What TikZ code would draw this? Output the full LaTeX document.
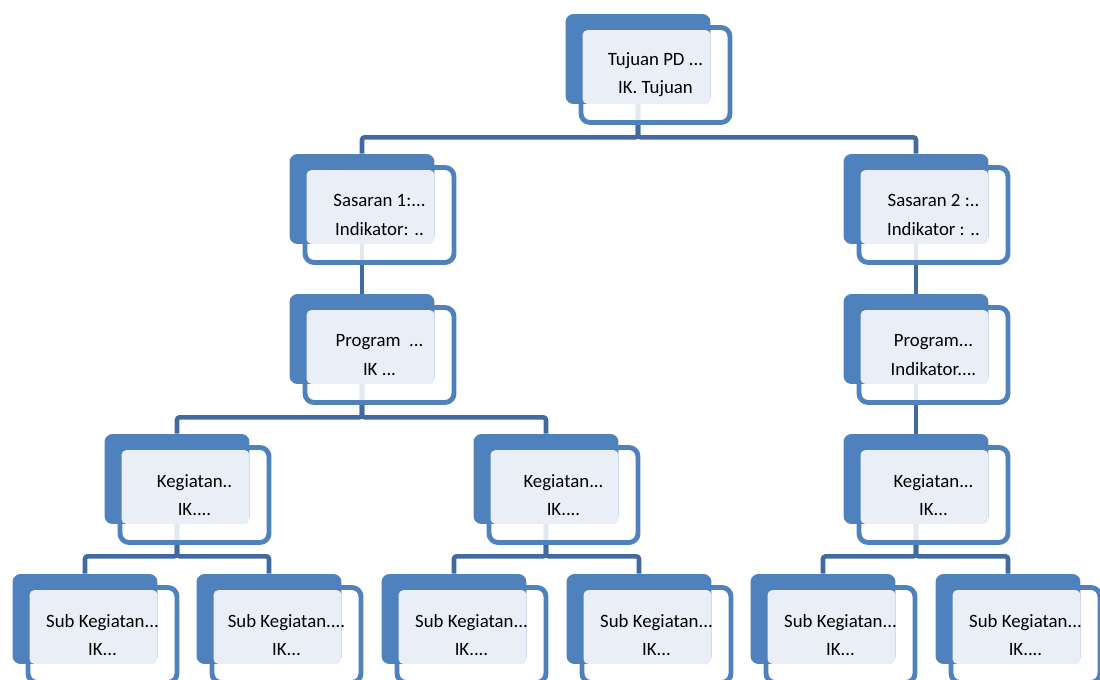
\documentclass[tikz,border=0pt]{standalone}
\usepackage{fontspec}
\setmainfont{Carlito}
\usepackage{tikz}
\usetikzlibrary{positioning,calc}
\definecolor{boxblue}{RGB}{79,129,189}
\definecolor{lineblue}{RGB}{64,106,160}
\definecolor{paleblue}{RGB}{234,239,247}
\pgfdeclarelayer{background}
\pgfsetlayers{background,main}
\tikzset{%
    backbox/.style={fill=boxblue, rounded corners=0.16cm,%
        minimum width=2.9cm, minimum height=1.8cm, inner sep=0pt},%
    framebox/.style={draw=boxblue, line width=2.8pt, fill=white,%
        fill opacity=0.85, rounded corners=0.18cm,%
        minimum width=2.98cm, minimum height=1.9cm, inner sep=0pt},%
    palebox/.style={fill=paleblue, rounded corners=0.1cm,%
        minimum width=2.56cm, minimum height=1.48cm, inner sep=0pt},%
    boxtext/.style={align=center, inner sep=0pt,%
        font=\fontsize{10.7}{16}\selectfont},%
    conn/.style={draw=lineblue, line width=2.6pt, rounded corners=1.5pt}%
    }
% one unit of the chart: #1 name, #2 centre of the blue block, #3 text
\newcommand{\orgunit}[3]{%
    \coordinate (#1c) at (#2);
    \node[framebox] (#1f) at ([shift={(0.35cm,-0.32cm)}]#1c) {};
    \node[backbox] (#1) at (#1c) {};
    \node[palebox] (#1p) at ([shift={(0.17cm,-0.16cm)}]#1c) {};
    \node[boxtext] (#1t) at (#1f.center) {#3};
}
\begin{document}
\begin{tikzpicture}[x=0.02cm, y=-0.02cm]
    \clip (0,0) rectangle (1100,680);
    \useasboundingbox (0,0) rectangle (1100,680);

    \orgunit{tj}{638,59}{Tujuan PD ...\\IK. Tujuan}
    \orgunit{sa}{362,199}{Sasaran 1:...\\Indikator: ..}
    \orgunit{sb}{916,199}{Sasaran 2 :..\\Indikator : ..}
    \orgunit{pa}{362,339}{Program \ ...\\IK ...}
    \orgunit{pb}{916,339}{Program...\\Indikator....}
    \orgunit{ka}{177,479}{Kegiatan..\\IK....}
    \orgunit{kb}{546,479}{Kegiatan...\\IK....}
    \orgunit{kc}{916,479}{Kegiatan...\\IK...}
    \orgunit{ua}{85,619}{Sub Kegiatan...\\IK...}
    \orgunit{ub}{269,619}{Sub Kegiatan....\\IK...}
    \orgunit{uc}{454,619}{Sub Kegiatan...\\IK....}
    \orgunit{ud}{639,619}{Sub Kegiatan...\\IK...}
    \orgunit{ue}{823,619}{Sub Kegiatan...\\IK...}
    \orgunit{uf}{1008,619}{Sub Kegiatan...\\IK....}

    \begin{pgfonlayer}{background}
    \draw[conn] (tj.south) -- ++(0cm,-0.66cm) -| (sa.north);
    \draw[conn] (tj.south) -- ++(0cm,-0.66cm) -| (sb.north);
    \draw[conn] (sa.south) -- (pa.north);
    \draw[conn] (sb.south) -- (pb.north);
    \draw[conn] (pa.south) -- ++(0cm,-0.66cm) -| (ka.north);
    \draw[conn] (pa.south) -- ++(0cm,-0.66cm) -| (kb.north);
    \draw[conn] (pb.south) -- (kc.north);
    \draw[conn] (ka.south) -- ++(0cm,-0.64cm) -| (ua.north);
    \draw[conn] (ka.south) -- ++(0cm,-0.64cm) -| (ub.north);
    \draw[conn] (kb.south) -- ++(0cm,-0.64cm) -| (uc.north);
    \draw[conn] (kb.south) -- ++(0cm,-0.64cm) -| (ud.north);
    \draw[conn] (kc.south) -- ++(0cm,-0.64cm) -| (ue.north);
    \draw[conn] (kc.south) -- ++(0cm,-0.64cm) -| (uf.north);
    \end{pgfonlayer}
\end{tikzpicture}
\end{document}
